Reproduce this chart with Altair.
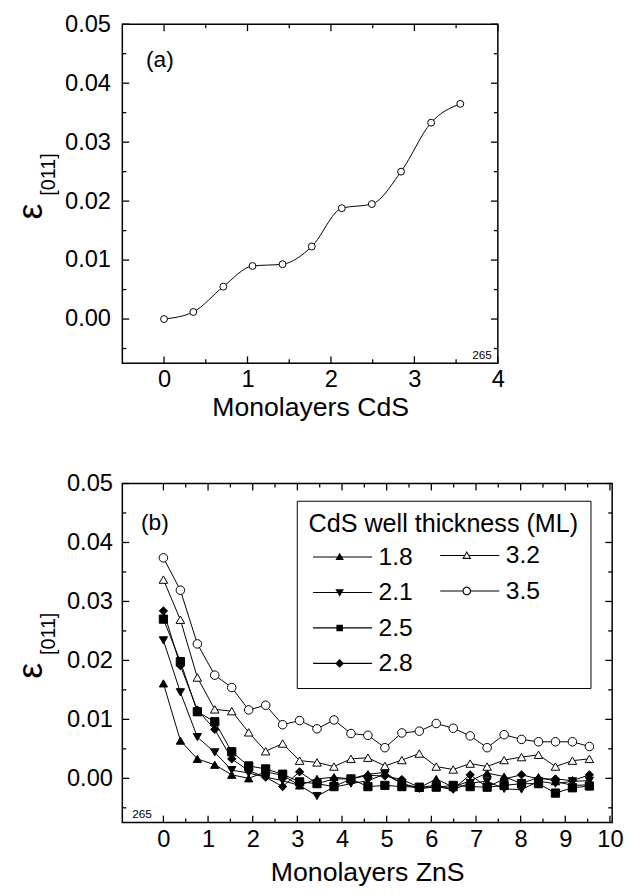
import altair as alt
import pandas as pd

FONT = "Liberation Sans"

# ---------------- data: panel (a) ----------------
cds_ml = [0.0, 0.35, 0.71, 1.06, 1.42, 1.77, 2.13, 2.49, 2.84, 3.20, 3.55]
strain_a = [0.0000, 0.0012, 0.0055, 0.0090, 0.0093, 0.0123, 0.0188, 0.0195, 0.0250, 0.0333, 0.0365]

# ---------------- data: panel (b) ----------------
zns_ml = [0.00, 0.38, 0.76, 1.15, 1.53, 1.91, 2.29, 2.67, 3.05, 3.44, 3.82, 4.20, 4.58,
          4.96, 5.34, 5.73, 6.11, 6.49, 6.87, 7.25, 7.63, 8.02, 8.40, 8.78, 9.16, 9.54]
well_labels = ["1.8", "2.1", "2.5", "2.8", "3.2", "3.5"]
filled_wells = ["1.8", "2.1", "2.5", "2.8"]
open_wells = ["3.2", "3.5"]
s18 = [0.0161, 0.0064, 0.0033, 0.0023, 0.0006, 0.0000, 0.0011, 0.0005, -0.0012, -0.0001, 0.0002, -0.0001, 0.0007,
       0.0010, -0.0009, -0.0016, -0.0001, -0.0015, -0.0004, 0.0009, 0.0003, -0.0009, 0.0002, -0.0005, -0.0012, -0.0011]
s21 = [0.0234, 0.0146, 0.0070, 0.0044, 0.0014, 0.0009, 0.0002, -0.0004, -0.0012, -0.0030, -0.0015, -0.0009, -0.0004,
       0.0007, -0.0009, -0.0018, -0.0014, -0.0019, -0.0008, -0.0005, -0.0018, -0.0019, -0.0005, -0.0009, -0.0005, -0.0004]
s25 = [0.0270, 0.0198, 0.0113, 0.0096, 0.0045, 0.0021, 0.0016, 0.0007, -0.0006, -0.0009, -0.0014, -0.0001, -0.0014,
       -0.0012, -0.0014, -0.0015, -0.0015, -0.0012, -0.0014, -0.0015, -0.0012, -0.0009, -0.0009, -0.0025, -0.0016, -0.0013]
s28 = [0.0284, 0.0191, 0.0116, 0.0083, 0.0033, 0.0013, 0.0002, -0.0014, 0.0011, -0.0009, -0.0001, -0.0001, 0.0005,
       0.0004, -0.0002, -0.0015, -0.0012, -0.0018, 0.0006, -0.0015, -0.0001, 0.0006, -0.0001, -0.0001, -0.0004, 0.0006]
s32 = [0.0337, 0.0269, 0.0171, 0.0117, 0.0114, 0.0078, 0.0046, 0.0059, 0.0030, 0.0027, 0.0020, 0.0033, 0.0035,
       0.0021, 0.0031, 0.0042, 0.0020, 0.0015, 0.0025, 0.0020, 0.0031, 0.0036, 0.0040, 0.0020, 0.0030, 0.0033]
s35 = [0.0374, 0.0319, 0.0228, 0.0175, 0.0154, 0.0116, 0.0124, 0.0091, 0.0098, 0.0084, 0.0099, 0.0076, 0.0073,
       0.0052, 0.0077, 0.0080, 0.0093, 0.0085, 0.0072, 0.0052, 0.0074, 0.0066, 0.0062, 0.0062, 0.0062, 0.0054]

# ---------------- tick values ----------------
x_major_a = [0, 1, 2, 3, 4]
x_minor_a = [0.5, 1.5, 2.5, 3.5]
x_major_b = [0, 1, 2, 3, 4, 5, 6, 7, 8, 9, 10]
x_minor_b = [0.5, 1.5, 2.5, 3.5, 4.5, 5.5, 6.5, 7.5, 8.5, 9.5]
y_major = [0.0, 0.01, 0.02, 0.03, 0.04, 0.05]
y_minor = [-0.005, 0.005, 0.015, 0.025, 0.035, 0.045]

df_a = pd.DataFrame({"x": cds_ml, "y": strain_a})
series_vals = [s18, s21, s25, s28, s32, s35]
rows = []
for lab, vals in zip(well_labels, series_vals):
    for xv, yv in zip(zns_ml, vals):
        rows.append({"x": xv, "y": yv, "series": lab})
df_b = pd.DataFrame(rows)
one = pd.DataFrame({"k": [0]})

WA, HA = 381, 344
WB, HB = 497, 344
y_scale = alt.Scale(domain=[-0.0075, 0.05], nice=False, zero=False)
xa_scale = alt.Scale(domain=[-0.5, 4.0], nice=False, zero=False)
xb_scale = alt.Scale(domain=[-0.92, 10.05], nice=False, zero=False)


def x_axis(values, title, tpad):
    return alt.Axis(values=values, title=title, ticks=False, tickSize=0, domain=False, grid=False,
                    labelPadding=5, labelFlush=False, labelOverlap=False, labelFontSize=24,
                    titleFontSize=27, titlePadding=tpad, format="d")


def y_axis(pad):
    return alt.Axis(values=y_major, title=None, ticks=False, tickSize=0, domain=False, grid=False,
                    labelPadding=pad, labelFlush=False, labelOverlap=False, labelFontSize=24, format=".2f")


def frame_ticks(xs, xax, yax, W, H, xmaj, xmin):
    out = []
    for vals, L in ((xmaj, 7), (xmin, 4)):
        d = pd.DataFrame({"x": vals})
        out.append(alt.Chart(d).mark_rule(color="black", strokeWidth=1.3).encode(
            x=alt.X("x:Q", scale=xs, axis=xax), y=alt.value(H), y2=alt.value(H - L)))
        out.append(alt.Chart(d).mark_rule(color="black", strokeWidth=1.3).encode(
            x=alt.X("x:Q", scale=xs, axis=xax), y=alt.value(0), y2=alt.value(L)))
    for vals, L in ((y_major, 7), (y_minor, 4)):
        d = pd.DataFrame({"y": vals})
        out.append(alt.Chart(d).mark_rule(color="black", strokeWidth=1.3).encode(
            y=alt.Y("y:Q", scale=y_scale, axis=yax), x=alt.value(0), x2=alt.value(L)))
        out.append(alt.Chart(d).mark_rule(color="black", strokeWidth=1.3).encode(
            y=alt.Y("y:Q", scale=y_scale, axis=yax), x=alt.value(W), x2=alt.value(W - L)))
    return out


def ytitle():
    eps = alt.Chart(one).mark_text(text="ε", angle=270, align="left", baseline="alphabetic",
                                   fontSize=36, font=FONT, color="black").encode(
        x=alt.value(-81), y=alt.value(198))
    sub = alt.Chart(one).mark_text(text="[011]", angle=270, align="left", baseline="alphabetic",
                                   fontSize=20, font=FONT, color="black").encode(
        x=alt.value(-68), y=alt.value(174))
    return [eps, sub]


# ---------------- panel (a) ----------------
xa_axis = x_axis(x_major_a, "Monolayers CdS", 3)
ya_axis = y_axis(12)
xa = alt.X("x:Q", scale=xa_scale, axis=xa_axis)
ya = alt.Y("y:Q", scale=y_scale, axis=ya_axis)
line_a = alt.Chart(df_a).mark_line(color="black", strokeWidth=1, interpolate="monotone").encode(x=xa, y=ya)
pts_a = alt.Chart(df_a).mark_point(shape="circle", size=49, filled=True, fill="white", stroke="black",
                                   strokeWidth=1, opacity=1).encode(x=xa, y=ya)
lab_a = alt.Chart(one).mark_text(text="(a)", align="left", baseline="alphabetic", fontSize=23,
                                 font=FONT, color="black").encode(x=alt.value(24), y=alt.value(43))
num_a = alt.Chart(one).mark_text(text="265", align="right", baseline="alphabetic", fontSize=12,
                                 font=FONT, color="black").encode(x=alt.value(WA - 6), y=alt.value(HA - 4))
panel_a = alt.layer(line_a, pts_a, *frame_ticks(xa_scale, xa_axis, ya_axis, WA, HA, x_major_a, x_minor_a),
                    lab_a, num_a, *ytitle()).properties(width=WA, height=HA)

# ---------------- panel (b) ----------------
xb_axis = x_axis(x_major_b, "Monolayers ZnS", 9)
yb_axis = y_axis(10)
xb = alt.X("x:Q", scale=xb_scale, axis=xb_axis)
yb = alt.Y("y:Q", scale=y_scale, axis=yb_axis)
line_b = alt.Chart(df_b).mark_line(color="black", strokeWidth=1).encode(x=xb, y=yb, detail="series:N")
pts_filled = alt.Chart(df_b).transform_filter(
    alt.FieldOneOfPredicate(field="series", oneOf=filled_wells)
).mark_point(filled=True, fill="black", stroke="black", strokeWidth=1, opacity=1, size=70).encode(
    x=xb, y=yb,
    shape=alt.Shape("series:N", scale=alt.Scale(domain=filled_wells,
                    range=["triangle-up", "triangle-down", "square", "diamond"]), legend=None))
pts_open = alt.Chart(df_b).transform_filter(
    alt.FieldOneOfPredicate(field="series", oneOf=open_wells)
).mark_point(filled=True, fill="white", stroke="black", strokeWidth=1, opacity=1, size=75).encode(
    x=xb, y=yb,
    shape=alt.Shape("series:N", scale=alt.Scale(domain=open_wells, range=["triangle-up", "circle"]),
                    legend=None))

# ---- legend symbols: a line with a marker, drawn as filled outlines (pixels -> unit of 4.5 px) ----
U = 4.5
L0, L1, MX, HW = -8.0, 52.0, 19.0, 0.55


def pt(x, y):
    return f"{x / U:.3f},{y / U:.3f}"


def seg(a, b):
    return f"M{pt(a, -HW)}L{pt(b, -HW)}L{pt(b, HW)}L{pt(a, HW)}Z"


def poly(points):
    return "M" + "L".join(pt(x, y) for x, y in points) + "Z"


SYM_TRI_UP = seg(L0, L1) + poly([(MX, -4.3), (MX + 4.3, 3.2), (MX - 4.3, 3.2)])
SYM_TRI_DN = seg(L0, L1) + poly([(MX - 4.3, -3.2), (MX + 4.3, -3.2), (MX, 4.3)])
SYM_SQUARE = seg(L0, L1) + poly([(MX - 3.3, -3.3), (MX + 3.3, -3.3), (MX + 3.3, 3.3), (MX - 3.3, 3.3)])
SYM_DIAMOND = seg(L0, L1) + poly([(MX, -4.4), (MX + 4.4, 0), (MX, 4.4), (MX - 4.4, 0)])
SYM_OPEN_TRI = (seg(L0, MX - 2.6) + seg(MX + 2.6, L1)
                + poly([(MX, -4.6), (MX + 4.6, 3.5), (MX - 4.6, 3.5)])
                + poly([(MX, -2.4), (MX - 2.8, 2.4), (MX + 2.8, 2.4)]))
RO, RI = 4.3, 3.2
SYM_OPEN_CIRCLE = (seg(L0, MX - RO) + seg(MX + RO, L1)
                   + f"M{pt(MX + RO, 0)}A{RO / U:.3f},{RO / U:.3f} 0 1,1 {pt(MX - RO, 0)}"
                   + f"A{RO / U:.3f},{RO / U:.3f} 0 1,1 {pt(MX + RO, 0)}Z"
                   + f"M{pt(MX + RI, 0)}A{RI / U:.3f},{RI / U:.3f} 0 1,0 {pt(MX - RI, 0)}"
                   + f"A{RI / U:.3f},{RI / U:.3f} 0 1,0 {pt(MX + RI, 0)}Z")


def legend_props(**kw):
    base = dict(orient="none", labelFont=FONT, labelFontSize=25, labelColor="black", labelOffset=46,
                rowPadding=10, symbolSize=81, symbolFillColor="black", symbolStrokeColor="black",
                symbolStrokeWidth=0, symbolOpacity=1)
    base.update(kw)
    return alt.Legend(**base)


leg_a = alt.Chart(df_b).transform_filter("false").mark_point(
    filled=True, fill="black", strokeWidth=0, opacity=1, size=81).encode(
    x=alt.X("x:Q", scale=xb_scale, axis=xb_axis), y=alt.Y("y:Q", scale=y_scale, axis=yb_axis),
    shape=alt.Shape("series:N", scale=alt.Scale(domain=filled_wells,
                    range=[SYM_TRI_UP, SYM_TRI_DN, SYM_SQUARE, SYM_DIAMOND]),
                    legend=legend_props(title="CdS well thickness (ML)", titleFont=FONT, titleFontSize=25.5,
                                        titleFontWeight="normal", titleColor="black", titleLimit=400,
                                        titlePadding=7, strokeColor="black", padding=12,
                                        legendX=177, legendY=17.5)))
leg_b = alt.Chart(df_b).transform_filter("false").mark_point(
    filled=True, fill="black", strokeWidth=0, opacity=1, size=81).encode(
    x=alt.X("x:Q", scale=xb_scale, axis=xb_axis), y=alt.Y("y:Q", scale=y_scale, axis=yb_axis),
    shape=alt.Shape("series:N", scale=alt.Scale(domain=open_wells, range=[SYM_OPEN_TRI, SYM_OPEN_CIRCLE]),
                    legend=legend_props(title=None, padding=0, legendX=318, legendY=60.5)))

lab_b = alt.Chart(one).mark_text(text="(b)", align="left", baseline="alphabetic", fontSize=23,
                                 font=FONT, color="black").encode(x=alt.value(19), y=alt.value(47))
num_b = alt.Chart(one).mark_text(text="265", align="left", baseline="alphabetic", fontSize=12,
                                 font=FONT, color="black").encode(x=alt.value(10), y=alt.value(HB - 5))

panel_b = alt.layer(line_b, pts_filled, pts_open,
                    *frame_ticks(xb_scale, xb_axis, yb_axis, WB, HB, x_major_b, x_minor_b),
                    leg_a, leg_b, lab_b, num_b, *ytitle()).resolve_scale(shape="independent").properties(
    width=WB, height=HB)

chart = alt.vconcat(panel_a, panel_b, spacing=50).properties(
    padding={"left": 5, "top": -3, "right": 0, "bottom": 0}
).configure_view(stroke="black", strokeWidth=1.5).configure_axis(
    labelFont=FONT, titleFont=FONT, labelColor="black", titleColor="black", titleFontWeight="normal"
)

chart.save("out.html", embed_options={"renderer": "svg", "actions": False})
